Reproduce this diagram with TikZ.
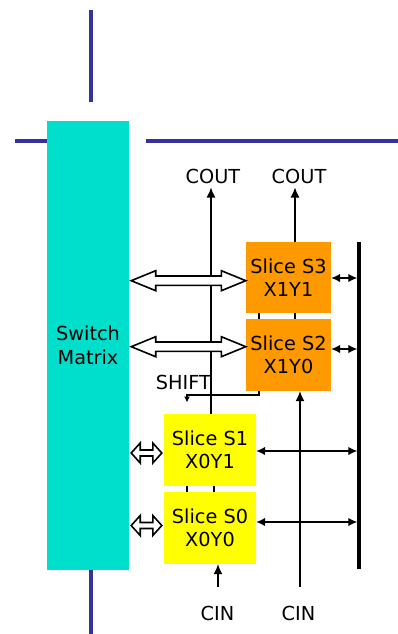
\documentclass[tikz,border=0pt]{standalone}
\usepackage{fontspec}
\setmainfont{DejaVu Sans}
\usetikzlibrary{arrows.meta,calc}
\definecolor{wireblue}{RGB}{51,51,153}
\definecolor{smcyan}{RGB}{0,222,204}
\definecolor{slorange}{RGB}{255,153,0}
\definecolor{slyellow}{RGB}{255,255,0}
\newcommand\hollowarr[5]{%
  \draw[hollow] let \p1=#1, \p2=#2 in
    (\x1,\y1) -- (\x1+#3,\y1+#4) -- (\x1+#3,\y1+#5) -- (\x2-#3,\y2+#5)
    -- (\x2-#3,\y2+#4) -- (\x2,\y2) -- (\x2-#3,\y2-#4) -- (\x2-#3,\y2-#5)
    -- (\x1+#3,\y1-#5) -- (\x1+#3,\y1-#4) -- cycle;}
\begin{document}
\begin{tikzpicture}[x=1pt,y=-1pt,
  every node/.style={font=\fontsize{19.3}{23.5}\selectfont, inner sep=0pt, align=center},
  blueline/.style={draw=wireblue, line width=3.5pt},
  thin/.style={line width=1.3pt},
  arr/.style={thin, -{Latex[length=10pt,width=9pt]}},
  dbl/.style={thin, {Latex[length=9pt,width=8.5pt]}-{Latex[length=9pt,width=8.5pt]}, shorten >=1.75pt},
  hollow/.style={draw=black, fill=white, line width=1.6pt, line join=miter},
  busline/.style={line width=3.5pt}]
\useasboundingbox (0,0) rectangle (398,634);
% wires
\draw[blueline] (91,10) -- (91,102);
\draw[blueline] (15,141) -- (47,141);
\draw[blueline] (146,141) -- (398,141);
\draw[blueline] (91,570) -- (91,634);
% boxes
\node[fill=smcyan, minimum width=82pt, minimum height=449pt] (sm) at (88,345.5) {Switch\\Matrix};
\node[fill=slorange, minimum width=85pt, minimum height=71pt] (s3) at (288.5,277.5) {Slice S3\\X1Y1};
\node[fill=slorange, minimum width=85pt, minimum height=72pt] (s2) at (288.5,355) {Slice S2\\X1Y0};
\node[fill=slyellow, minimum width=92pt, minimum height=72pt] (s1) at (210,450) {Slice S1\\X0Y1};
\node[fill=slyellow, minimum width=92pt, minimum height=72pt] (s0) at (210,528) {Slice S0\\X0Y0};
% bus
\coordinate (busT) at (359,242);
\coordinate (busB) at (359,569);
\draw[busline] (busT) -- (busB);
% labels
\node[anchor=base] (coutL) at (213,183) {COUT};
\node[anchor=base] (coutR) at (299,183) {COUT};
\node[anchor=base] (cinL) at (217.5,620.7) {CIN};
\node[anchor=base] (cinR) at (298.5,620.7) {CIN};
\node[anchor=base] (shift) at (183.3,389.3) {SHIFT};
% carry chains
\coordinate (cL) at (211,187.5);
\coordinate (cR) at (295,187.5);
\draw[arr] ([xshift=1pt]s1.north) -- (cL);
\draw[arr] ([xshift=6.5pt]s3.north) -- (cR);
\draw[thin] ([xshift=-29.5pt]s3.south) -- ([xshift=-29.5pt]s2.north);
\draw[thin] ([xshift=6.5pt]s3.south) -- ([xshift=6.5pt]s2.north);
\draw[thin] ([xshift=-23pt]s1.south) -- ([xshift=-23pt]s0.north);
\draw[thin] ([xshift=4pt]s1.south) -- ([xshift=4pt]s0.north);
\coordinate (ciL) at (218,587);
\coordinate (ciR) at (300,587);
\draw[arr] (ciL) -- (s0.south -| ciL);
\draw[arr] (ciR) -- (s2.south -| ciR);
% shift
\coordinate (shA) at (259,395);
\coordinate (shB) at (187,395);
\coordinate (shC) at (187,402.5);
\draw[thin, -{Latex[length=6pt,width=6pt]}] ([xshift=-29.5pt]s2.south) -- (shA) -- (shB) -- (shC);
% thin bus arrows
\draw[dbl] ([yshift=-0.5pt]s3.east) -- ([yshift=-0.5pt]s3.east -| busT);
\draw[dbl] ([yshift=6pt]s2.east) -- ([yshift=6pt]s2.east -| busT);
\draw[dbl] ([yshift=-1pt]s1.east) -- ([yshift=-1pt]s1.east -| busT);
\draw[dbl] ([yshift=6pt]s0.east) -- ([yshift=6pt]s0.east -| busT);
% hollow arrows
\hollowarr{([xshift=2pt]sm.east |- 0,280.7)}{(s3.west |- 0,280.7)}{24.5pt}{10pt}{4.7pt}
\hollowarr{([xshift=2pt]sm.east |- 0,346.7)}{(s2.west |- 0,346.7)}{24.5pt}{10pt}{4.7pt}
\hollowarr{([xshift=2pt]sm.east |- 0,453)}{([xshift=-2pt]s1.west |- 0,453)}{9pt}{10pt}{3pt}
\hollowarr{([xshift=2pt]sm.east |- 0,525.5)}{([xshift=-2pt]s0.west |- 0,525.5)}{9pt}{10pt}{3pt}
\end{tikzpicture}
\end{document}
